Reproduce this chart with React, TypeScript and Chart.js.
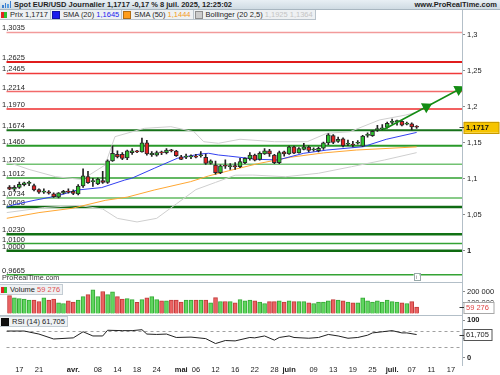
import React, { useEffect, useRef } from "react";
import { Chart, registerables } from "chart.js";

Chart.register(...registerables);

const FONT = "'Liberation Sans', Arial, sans-serif";

// ---- categories (trading days) ----
const dates = [
  "13/03","14/03","17/03","18/03","19/03","20/03","21/03","24/03","25/03","26/03","27/03","28/03","31/03",
  "01/04","02/04","03/04","04/04","07/04","08/04","09/04","10/04","11/04","14/04","15/04","16/04","17/04","18/04","21/04","22/04","23/04","24/04","25/04","28/04","29/04","30/04",
  "01/05","02/05","05/05","06/05","07/05","08/05","09/05","12/05","13/05","14/05","15/05","16/05","19/05","20/05","21/05","22/05","23/05","26/05","27/05","28/05","29/05","30/05",
  "02/06","03/06","04/06","05/06","06/06","09/06","10/06","11/06","12/06","13/06","16/06","17/06","18/06","19/06","20/06","23/06","24/06","25/06","26/06","27/06","30/06",
  "01/07","02/07","03/07","04/07","07/07","08/07"
];

// ---- OHLC ----
const opens = [
  1.0885,1.0855,1.0880,1.0920,1.0935,1.0905,1.0850,1.0815,1.0820,1.0790,1.0745,1.0800,1.0825,
  1.0825,1.0790,1.0900,1.1030,1.0960,1.0930,1.0975,1.0950,1.1250,1.1340,1.1340,1.1290,1.1365,1.1380,1.1375,1.1500,1.1335,1.1330,1.1375,1.1365,1.1395,1.1385,
  1.1305,1.1300,1.1305,1.1315,1.1320,1.1300,1.1215,1.1190,1.1085,1.1180,1.1170,1.1185,1.1170,1.1225,1.1275,1.1330,1.1270,1.1345,1.1390,1.1330,1.1225,1.1375,
  1.1345,1.1445,1.1360,1.1410,1.1440,1.1400,1.1390,1.1425,1.1500,1.1600,1.1520,1.1555,1.1480,1.1475,1.1495,1.1455,1.1605,1.1600,1.1685,1.1695,1.1715,
  1.1785,1.1795,1.1800,1.1760,1.1765,1.1728
];
const highs = [
  1.0905,1.0905,1.0955,1.0955,1.0970,1.0925,1.0860,1.0860,1.0835,1.0805,1.0810,1.0840,1.0860,
  1.0845,1.0920,1.1140,1.1105,1.1005,1.1010,1.1105,1.1265,1.1460,1.1390,1.1365,1.1400,1.1420,1.1395,1.1565,1.1535,1.1380,1.1385,1.1385,1.1420,1.1410,1.1395,
  1.1325,1.1345,1.1335,1.1340,1.1380,1.1345,1.1265,1.1245,1.1195,1.1265,1.1210,1.1225,1.1285,1.1290,1.1365,1.1345,1.1375,1.1420,1.1410,1.1340,1.1385,1.1385,
  1.1455,1.1455,1.1435,1.1495,1.1460,1.1430,1.1440,1.1510,1.1630,1.1615,1.1580,1.1570,1.1540,1.1520,1.1530,1.1605,1.1640,1.1670,1.1745,1.1755,1.1790,
  1.1830,1.1815,1.1810,1.1790,1.1780,1.1740
];
const lows = [
  1.0850,1.0835,1.0865,1.0900,1.0905,1.0830,1.0795,1.0795,1.0785,1.0740,1.0735,1.0790,1.0800,
  1.0780,1.0775,1.0880,1.0935,1.0895,1.0920,1.0935,1.0935,1.1240,1.1290,1.1265,1.1265,1.1340,1.1365,1.1370,1.1330,1.1310,1.1315,1.1335,1.1345,1.1375,1.1310,
  1.1265,1.1280,1.1280,1.1290,1.1300,1.1200,1.1205,1.1065,1.1070,1.1145,1.1130,1.1130,1.1155,1.1210,1.1260,1.1250,1.1260,1.1340,1.1310,1.1210,1.1210,1.1315,
  1.1340,1.1350,1.1355,1.1400,1.1375,1.1385,1.1375,1.1410,1.1475,1.1490,1.1505,1.1445,1.1460,1.1445,1.1480,1.1450,1.1580,1.1590,1.1660,1.1685,1.1705,
  1.1765,1.1745,1.1735,1.1750,1.1680,1.1700
];
const closes = [
  1.0855,1.0880,1.0922,1.0945,1.0950,1.0845,1.0815,1.0820,1.0800,1.0750,1.0805,1.0825,1.0815,
  1.0795,1.0900,1.1040,1.0945,1.0975,1.0995,1.0950,1.1250,1.1355,1.1305,1.1285,1.1390,1.1390,1.1375,1.1500,1.1345,1.1355,1.1365,1.1360,1.1400,1.1390,1.1320,
  1.1270,1.1315,1.1310,1.1300,1.1330,1.1215,1.1250,1.1085,1.1180,1.1175,1.1180,1.1165,1.1240,1.1285,1.1330,1.1260,1.1355,1.1390,1.1345,1.1225,1.1365,1.1345,
  1.1445,1.1355,1.1420,1.1445,1.1395,1.1410,1.1425,1.1500,1.1610,1.1505,1.1550,1.1460,1.1485,1.1470,1.1505,1.1595,1.1615,1.1660,1.1690,1.1700,1.1770,
  1.1790,1.1800,1.1745,1.1765,1.1720,1.1717
];

// ---- volume ----
const volumes = [
  167000,145000,138000,135000,126000,126000,112000,145000,126000,135000,100000,93000,119000,
  107000,126000,157000,176000,221000,157000,205000,176000,202000,157000,135000,138000,129000,103000,129000,145000,157000,129000,119000,119000,126000,126000,
  107000,126000,126000,126000,126000,126000,100000,148000,112000,112000,110000,100000,129000,119000,126000,119000,107000,93000,110000,110000,119000,107000,
  119000,110000,110000,110000,100000,93000,107000,107000,119000,129000,126000,119000,107000,100000,100000,145000,119000,107000,119000,107000,126000,
  110000,107000,100000,93000,110000,59276
];

// ---- indicators (x = trading-day index, 0 = 17 March) ----
const sma20 = [
  [-2.6,1.0604],[-1.3,1.0636],[3,1.0700],[7.6,1.0760],[11.8,1.0844],[16.8,1.0878],[21.5,1.0983],[22.9,1.1007],
  [27.5,1.1146],[32.2,1.1285],[36.9,1.1345],[38.6,1.1355],[40.6,1.1331],[42.6,1.1317],[48.6,1.1271],[52.7,1.1262],
  [58,1.1355],[62.7,1.1400],[70.1,1.1446],[74.8,1.1549],[81,1.1645]
];
const sma50 = [
  [-2.6,1.0450],[4,1.0530],[10.8,1.0590],[17.5,1.0700],[22,1.0745],[27.5,1.0844],[34.9,1.0960],[38.6,1.1040],
  [42.6,1.1110],[48.6,1.1210],[55.3,1.1300],[62,1.1360],[68.7,1.1400],[81,1.1444]
];
const bollUpper = [
  [-2.6,1.1238],[2,1.1130],[7.4,1.1029],[12.8,1.0990],[17.5,1.1192],[19.5,1.1586],[25.5,1.1702],[30.9,1.1725],
  [35.6,1.1655],[37.6,1.1516],[40.6,1.1494],[45,1.1550],[52,1.1516],[58.7,1.1516],[62.7,1.1633],[67.4,1.1655],
  [73.4,1.1818],[78.8,1.1887],[81,1.1925]
];
const bollLower = [
  [-2.6,1.0530],[5,1.0600],[12,1.0630],[17,1.0580],[20,1.0450],[24,1.0400],[28,1.0450],[32,1.0650],[36,1.0850],
  [40,1.0950],[44,1.1050],[47.6,1.1052],[54.3,1.1029],[61,1.1077],[67.7,1.1168],[74.4,1.1261],[81,1.1364]
];
const rsi = [
  [-2.6,71],[1,71],[4,63],[7,50],[11,53],[13,69],[15,58],[17,58],[18,73],[21,72],[23,72],[25,74.5],[26,63],[28,62],
  [30,63],[32,54],[35,55],[38,51],[40,38],[42,46],[44,45],[47,54],[48,53],[50,58],[52,47],[53,54],[55,58],[56,54],
  [59,52],[61,54],[63,62],[65,58],[67,52],[69,54],[71,60],[72,66],[74,69],[76,72],[78,66],[79,66],[81,61.705]
];
const trendLine = [[74.1,1.1679],[83,1.2002],[89.6,1.2242]];

// ---- horizontal levels ----
const levelValues = [1.3035,1.2625,1.2465,1.2214,1.197,1.1674,1.146,1.1202,1.1012,1.0734,1.0608,1.023,1.01,1.0,0.9665];
const levelColors = ["#f29a9a","#e01c1c","#f03a3a","#f26a6a","#ee2c2c","#17721a","#2a9a2a","#72c272","#2fa12f","#62ba62","#0f6a12","#127214","#34a334","#0e6a10","#34a334"];
const levelWidths = [1.5,2,1.5,1.5,1.5,2,2,1.5,1.5,1.5,2.5,2.5,1.5,2.5,1.5];

// ---- axis ticks ----
const priceTicks = [1.0,1.05,1.1,1.15,1.2,1.25,1.3];
const volTicks = [100000,200000];
const rsiTicks = [0,50,100];
const xTickIdx = [0,4,11,16,20,24,28,33,36,40,44,48,52,55,60,64,68,72,76,80,84,88];
const xTickLabels = ["17","21","avr.","08","14","18","24","mai","06","12","16","22","28","juin","09","13","19","25","juil.","07","11","17"];
const monthLabels = ["avr.","mai","juin","juil."];

const lastPrice = 1.1717;
const lastVolume = 59276;
const lastRsi = 61.705;

const GREEN = "#2cc12c";
const RED = "#e32222";

const fmt = (v: number, d: number) => v.toFixed(d).replace(".", ",");

const decorPlugin = {
  id: "decor",
  beforeDatasetsDraw(chart: any) {
    const { ctx, chartArea, scales } = chart;
    const y = scales.y;
    ctx.save();
    levelValues.forEach((v, i) => {
      const py = y.getPixelForValue(v);
      ctx.strokeStyle = levelColors[i];
      ctx.lineWidth = levelWidths[i];
      ctx.beginPath();
      ctx.moveTo(chartArea.left, py);
      ctx.lineTo(chartArea.right, py);
      ctx.stroke();
      ctx.fillStyle = "#1e1e1e";
      ctx.font = `7.5px ${FONT}`;
      ctx.textBaseline = "alphabetic";
      ctx.textAlign = "left";
      ctx.fillText(fmt(v, 4), 2, py - 2);
    });
    const r = scales.yRsi;
    ctx.setLineDash([3, 3]);
    ctx.strokeStyle = "#a0a0a0";
    ctx.lineWidth = 1;
    [70, 30].forEach((v) => {
      const py = Math.round(r.getPixelForValue(v)) + 0.5;
      ctx.beginPath();
      ctx.moveTo(chartArea.left, py);
      ctx.lineTo(chartArea.right, py);
      ctx.stroke();
    });
    ctx.setLineDash([]);
    ctx.restore();
  },
  afterDraw(chart: any) {
    const { ctx, chartArea, scales } = chart;
    ctx.save();
    ctx.strokeStyle = "#b3bfc8";
    ctx.lineWidth = 1;
    [scales.yVol.top, scales.yRsi.top].forEach((t: number) => {
      const py = Math.round(t) + 0.5;
      ctx.beginPath();
      ctx.moveTo(0, py);
      ctx.lineTo(chartArea.right, py);
      ctx.stroke();
    });
    const vx = Math.round(chartArea.right) + 0.5;
    ctx.beginPath();
    ctx.moveTo(vx, 10);
    ctx.lineTo(vx, 366);
    ctx.stroke();

    const box = (py: number, text: string, bg: string, border: string, color: string, bold: boolean, w: number) => {
      ctx.fillStyle = bg;
      ctx.fillRect(vx + 1.5, py - 5.5, w, 11);
      ctx.strokeStyle = border;
      ctx.lineWidth = 1;
      ctx.strokeRect(vx + 1.5, Math.round(py - 5.5) + 0.5, w, 11);
      ctx.beginPath();
      ctx.strokeStyle = "#333";
      ctx.moveTo(vx - 3, Math.round(py) + 0.5);
      ctx.lineTo(vx + 1.5, Math.round(py) + 0.5);
      ctx.stroke();
      ctx.fillStyle = color;
      ctx.font = `${bold ? "bold " : ""}7.5px ${FONT}`;
      ctx.textBaseline = "middle";
      ctx.textAlign = "left";
      ctx.fillText(text, vx + 3.5, py + 0.5);
    };
    box(scales.y.getPixelForValue(lastPrice), fmt(lastPrice, 4), "#f6c400", "#c89a00", "#111", true, 35);
    box(scales.yVol.getPixelForValue(lastVolume), "59 276", "#ffffff", "#a8a8a8", "#e04848", false, 30);
    box(scales.yRsi.getPixelForValue(lastRsi), fmt(lastRsi, 3), "#ffffff", "#555555", "#222", false, 28);

    const mx = scales.x.getPixelForValue(81);
    ctx.fillStyle = "#fff";
    ctx.strokeStyle = "#9aa";
    ctx.fillRect(mx - 3, 273, 6, 7);
    ctx.strokeRect(Math.round(mx - 3) + 0.5, 273.5, 6, 7);
    ctx.fillStyle = "#777";
    ctx.font = `6px ${FONT}`;
    ctx.textAlign = "center";
    ctx.textBaseline = "middle";
    ctx.fillText("i", mx, 277.5);
    ctx.restore();
  },
};

export default function App() {
  const ref = useRef<HTMLCanvasElement>(null);

  useEffect(() => {
    const xs = dates.map((_, i) => i - 2);
    const up = closes.map((c, i) => c >= opens[i]);
    const wicks = xs.map((x, i) => ({ x, y: [lows[i], highs[i]] }));
    const bodies = xs.map((x, i) => ({ x, y: [opens[i], closes[i]] }));
    const vols = xs.map((x, i) => ({ x, y: volumes[i] }));
    const pts = (a: number[][]) => a.map(([x, y]) => ({ x, y }));

    const fixW = (s: any) => {
      s.width = 38;
      s.paddingTop = 0;
      s.paddingBottom = 0;
    };

    const chart = new Chart(ref.current as HTMLCanvasElement, {
      type: "bar",
      data: {
        datasets: [
          { type: "line", data: pts(bollUpper), borderColor: "#cfcfcf", borderWidth: 1, pointRadius: 0, yAxisID: "y", order: 10 } as any,
          { type: "line", data: pts(bollLower), borderColor: "#cfcfcf", borderWidth: 1, pointRadius: 0, yAxisID: "y", order: 10 } as any,
          { type: "line", data: pts(sma50), borderColor: "#ffa733", borderWidth: 1, pointRadius: 0, yAxisID: "y", order: 9 } as any,
          { type: "line", data: pts(sma20), borderColor: "#3340f0", borderWidth: 1, pointRadius: 0, yAxisID: "y", order: 8 } as any,
          {
            type: "bar",
            data: wicks,
            backgroundColor: "#222",
            barThickness: 1,
            grouped: false,
            yAxisID: "y",
            order: 5,
          } as any,
          {
            type: "bar",
            data: bodies,
            backgroundColor: up.map((u) => (u ? GREEN : RED)),
            borderColor: "#2a2a2a",
            borderWidth: 1,
            borderSkipped: false,
            minBarLength: 1,
            barThickness: 4,
            grouped: false,
            yAxisID: "y",
            order: 4,
          } as any,
          {
            type: "line",
            data: pts(trendLine),
            borderColor: "#148c14",
            backgroundColor: "#148c14",
            borderWidth: 1.5,
            pointRadius: [0, 5, 5],
            pointStyle: "triangle",
            rotation: 62,
            yAxisID: "y",
            order: 1,
          } as any,
          {
            type: "bar",
            data: vols,
            backgroundColor: up.map((u) => (u ? "#5fd65f" : "#ea6262")),
            borderColor: up.map((u) => (u ? "#35a835" : "#c23a3a")),
            borderWidth: 1,
            borderSkipped: "bottom",
            barThickness: 4,
            grouped: false,
            yAxisID: "yVol",
            order: 6,
          } as any,
          { type: "line", data: pts(rsi), borderColor: "#222", borderWidth: 1, pointRadius: 0, yAxisID: "yRsi", order: 3 } as any,
        ],
      },
      options: {
        animation: false,
        responsive: false,
        devicePixelRatio: 1,
        layout: { padding: { top: 20, left: 0, right: 0, bottom: 0 } },
        plugins: { legend: { display: false }, tooltip: { enabled: false } },
        scales: {
          x: {
            type: "linear",
            position: "bottom",
            min: -2.613,
            max: 90.25,
            offset: false,
            grid: { display: false, drawTicks: false },
            border: { display: false },
            afterBuildTicks: (s: any) => {
              s.ticks = xTickIdx.map((v) => ({ value: v }));
            },
            afterFit: (s: any) => {
              s.height = 13;
              s.paddingLeft = 0;
              s.paddingRight = 0;
            },
            ticks: {
              autoSkip: false,
              maxRotation: 0,
              padding: 3,
              color: "#222",
              font: (c: any) => ({
                family: FONT,
                size: 7.5,
                weight: c.tick && monthLabels.includes(xTickLabels[xTickIdx.indexOf(c.tick.value)]) ? "bold" : "normal",
              }),
              callback: (v: any) => {
                const k = xTickIdx.indexOf(Number(v));
                return k >= 0 ? xTickLabels[k] : "";
              },
            },
          },
          y: {
            type: "linear",
            position: "right",
            stack: "panels",
            stackWeight: 262,
            min: 0.95647,
            max: 1.32086,
            grid: { drawOnChartArea: false, drawTicks: true, tickLength: 3, color: "#8a8a8a" },
            border: { display: false },
            afterBuildTicks: (s: any) => {
              s.ticks = priceTicks.map((v) => ({ value: v }));
            },
            afterFit: fixW,
            ticks: {
              padding: 2,
              color: "#222",
              font: (c: any) => ({ family: FONT, size: 7.5, weight: c.tick && c.tick.value === 1 ? "bold" : "normal" }),
              callback: (v: any) => fmt(Number(v), Number(v) === 1 ? 0 : Math.round(Number(v) * 100) % 10 === 0 ? 1 : 2),
            },
          },
          yVol: {
            type: "linear",
            position: "right",
            stack: "panels",
            stackWeight: 33,
            min: -13953,
            max: 293023,
            grid: { drawOnChartArea: false, drawTicks: true, tickLength: 3, color: "#8a8a8a" },
            border: { display: false },
            afterBuildTicks: (s: any) => {
              s.ticks = volTicks.map((v) => ({ value: v }));
            },
            afterFit: fixW,
            ticks: {
              padding: 2,
              color: "#222",
              font: { family: FONT, size: 7.5 },
              callback: (v: any) => (Number(v) / 1000).toFixed(0) + " 000",
            },
          },
          yRsi: {
            type: "linear",
            position: "right",
            stack: "panels",
            stackWeight: 47,
            min: -10.53,
            max: 113.16,
            grid: { drawOnChartArea: false, drawTicks: true, tickLength: 3, color: "#8a8a8a" },
            border: { display: false },
            afterBuildTicks: (s: any) => {
              s.ticks = rsiTicks.map((v) => ({ value: v }));
            },
            afterFit: fixW,
            ticks: {
              padding: 2,
              color: "#222",
              font: (c: any) => ({ family: FONT, size: 7.5, weight: c.tick && c.tick.value !== 50 ? "bold" : "normal" }),
              callback: (v: any) => String(v),
            },
          },
        },
      } as any,
      plugins: [decorPlugin],
    });
    return () => chart.destroy();
  }, []);

  const legendBox: React.CSSProperties = {
    display: "flex",
    alignItems: "center",
    height: "100%",
    padding: "0 2px 0 1px",
    borderRight: "1px solid #b9c3cb",
    whiteSpace: "nowrap",
  };
  const sq = (c: string): React.CSSProperties => ({
    display: "inline-block",
    width: 6,
    height: 6,
    background: c,
    marginRight: 3,
    border: "0.5px solid rgba(0,0,0,0.3)",
  });
  const split: React.CSSProperties = {
    display: "inline-block",
    width: 6,
    height: 6,
    background: `linear-gradient(90deg, ${RED} 50%, ${GREEN} 50%)`,
    marginRight: 3,
  };

  return (
    <div
      style={{
        position: "fixed",
        left: 0,
        top: 0,
        width: 500,
        height: 375,
        background: "#fff",
        overflow: "hidden",
        fontFamily: FONT,
        color: "#1e1e1e",
      }}
    >
      <canvas ref={ref} width={500} height={375} style={{ position: "absolute", left: 0, top: 0, width: 500, height: 375 }} />
      <div
        style={{
          position: "absolute",
          left: 0,
          top: 0,
          width: 500,
          height: 9,
          background: "linear-gradient(#e8eff4, #cfdbe3)",
          borderBottom: "1px solid #a8b6c0",
          fontSize: 7.5,
          fontWeight: "bold",
          lineHeight: "9px",
          display: "flex",
          alignItems: "center",
        }}
      >
        <span style={{ display: "inline-flex", alignItems: "flex-end", height: 7, marginLeft: 2, marginRight: 3, gap: 1 }}>
          <span style={{ width: 1.5, height: 3, background: "#3d7fd0" }} />
          <span style={{ width: 1.5, height: 5, background: "#3d7fd0" }} />
          <span style={{ width: 1.5, height: 4, background: "#58a0e6" }} />
          <span style={{ width: 1.5, height: 7, background: "#3d7fd0" }} />
        </span>
        <span>Spot EUR/USD Journalier 1,1717 -0,17 % 8 juil. 2025, 12:25:02</span>
        <span style={{ marginLeft: "auto", marginRight: 3 }}>www.ProRealTime.com</span>
      </div>
      <div
        style={{
          position: "absolute",
          left: 0,
          top: 10,
          height: 9,
          display: "flex",
          background: "#eef1f3",
          borderBottom: "1px solid #b9c3cb",
          fontSize: 7.5,
          lineHeight: "9px",
        }}
      >
        <div style={legendBox}>
          <span style={split} />
          <span>Prix 1,1717</span>
        </div>
        <div style={legendBox}>
          <span style={sq("#1a1aee")} />
          <span>
            SMA (20) <span style={{ color: "#2222ee" }}>1,1645</span>
          </span>
        </div>
        <div style={legendBox}>
          <span style={sq("#ff9d1a")} />
          <span>
            SMA (50) <span style={{ color: "#f59a1a" }}>1,1444</span>
          </span>
        </div>
        <div style={legendBox}>
          <span style={sq("#cccccc")} />
          <span>
            Bollinger (20 2,5) <span style={{ color: "#c4c4c4" }}>1,1925 1,1364</span>
          </span>
        </div>
      </div>
      <div style={{ position: "absolute", left: 2, top: 274, fontSize: 7.2, lineHeight: "8px", color: "#333" }}>ProRealTime.com</div>
      <div
        style={{
          position: "absolute",
          left: 0,
          top: 284,
          height: 9,
          display: "flex",
          alignItems: "center",
          background: "#eef1f3",
          border: "1px solid #c3ccd3",
          borderLeft: "none",
          fontSize: 7.5,
          lineHeight: "9px",
          padding: "0 2px 0 1px",
        }}
      >
        <span style={split} />
        <span>
          Volume <span style={{ color: "#e05050" }}>59 276</span>
        </span>
      </div>
      <div
        style={{
          position: "absolute",
          left: 0,
          top: 316,
          height: 9,
          display: "flex",
          alignItems: "center",
          background: "#eef1f3",
          border: "1px solid #c3ccd3",
          borderLeft: "none",
          fontSize: 7.5,
          lineHeight: "9px",
          padding: "0 2px 0 1px",
        }}
      >
        <span style={sq("#111")} />
        <span>RSI (14) 61,705</span>
      </div>
    </div>
  );
}
